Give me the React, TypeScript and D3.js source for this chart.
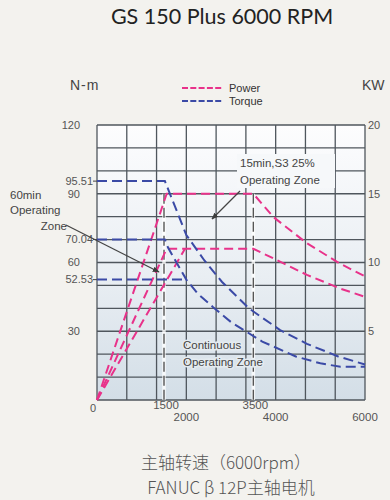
import React, { useEffect, useRef } from 'react';
import * as d3 from 'd3';

// torque curves, [rpm, N-m]
const torqueS3: [number, number][] = [
  [0, 95.51], [1520, 95.51], [2000, 72], [2400, 61], [2800, 51.5], [3400, 40],
  [4100, 30.5], [4700, 24.5], [5400, 19], [6000, 15.5],
];
const torqueCont: [number, number][] = [
  [0, 70.04], [1520, 70.04], [1590, 66.5], [2000, 52.53], [2250, 46.5], [2600, 40.5],
  [3000, 34], [3700, 25.5], [4450, 19], [5000, 16], [5450, 14.5], [6000, 14.5],
];
const torqueLow: [number, number][] = [[0, 52.53], [1970, 52.53]];

// power curves, [rpm, kW]
const powerS3: [number, number][] = [
  [0, 0], [1560, 15], [3500, 15], [3950, 13.3], [4700, 11.4], [5450, 9.9], [6000, 9],
];
const powerCont: [number, number][] = [
  [0, 0], [1560, 11], [3500, 11], [3950, 10.3], [4700, 9.1], [5450, 8.1], [6000, 7.5],
];
const powerLow: [number, number][] = [[0, 0], [1970, 11]];

// tick labels
const torqueTicks = [120, 90, 60, 30];
const torqueMarks = [95.51, 70.04, 52.53];
const powerTicks = [20, 15, 10, 5];
const rpmTicksHigh = [1500, 3500];
const rpmTicksLow = [2000, 4000, 6000];
const refLines = [1500, 3500];

const PINK = '#e8328a';
const BLUE = '#3b4aa6';
const GRID = '#4f565d';
const TXT = '#555';

export default function App() {
  const ref = useRef<SVGSVGElement>(null);

  useEffect(() => {
    const svg = d3.select(ref.current);
    svg.selectAll('*').remove();

    const left = 97;
    const right = 365;
    const top = 125;
    const bottom = 400;

    const x = d3.scaleLinear().domain([0, 6000]).range([left, right]);
    const yT = d3.scaleLinear().domain([0, 120]).range([bottom, top]);
    const yP = d3.scaleLinear().domain([0, 20]).range([bottom, top]);
    const col = d3.scaleLinear().domain([0, 9]).range([left, right]);

    const defs = svg.append('defs');
    const grad = defs.append('linearGradient')
      .attr('id', 'plotbg')
      .attr('x1', 0).attr('y1', 0).attr('x2', 0).attr('y2', 1);
    grad.append('stop').attr('offset', '0%').attr('stop-color', '#fdfdfe');
    grad.append('stop').attr('offset', '55%').attr('stop-color', '#e9eef3');
    grad.append('stop').attr('offset', '100%').attr('stop-color', '#d3dee7');

    defs.append('marker')
      .attr('id', 'arrow')
      .attr('viewBox', '0 0 10 10')
      .attr('refX', 9).attr('refY', 5)
      .attr('markerWidth', 7).attr('markerHeight', 7)
      .attr('markerUnits', 'userSpaceOnUse')
      .attr('orient', 'auto')
      .append('path')
      .attr('d', 'M0,1 L10,5 L0,9 Z')
      .attr('fill', '#3c3c3c');

    // page background
    svg.append('rect')
      .attr('width', 390).attr('height', 500)
      .attr('fill', '#f3f2ee');

    // title
    svg.append('text')
      .attr('x', 222).attr('y', 24)
      .attr('text-anchor', 'middle')
      .style('font-family', 'Lato, sans-serif')
      .style('font-size', '21.5px')
      .attr('fill', '#222')
      .text('GS 150 Plus 6000 RPM');

    // unit labels
    svg.append('text')
      .attr('x', 70).attr('y', 90)
      .style('font-family', 'Liberation Sans, sans-serif')
      .style('font-size', '14px')
      .style('letter-spacing', '1px')
      .attr('fill', '#444')
      .text('N-m');
    svg.append('text')
      .attr('x', 362).attr('y', 90)
      .style('font-family', 'Liberation Sans, sans-serif')
      .style('font-size', '14px')
      .attr('fill', '#444')
      .text('KW');

    // legend
    const legend = [
      { name: 'Power', color: PINK, y: 88 },
      { name: 'Torque', color: BLUE, y: 101 },
    ];
    legend.forEach((l) => {
      svg.append('line')
        .attr('x1', 182).attr('x2', 222)
        .attr('y1', l.y).attr('y2', l.y)
        .attr('stroke', l.color)
        .attr('stroke-width', 2)
        .attr('stroke-dasharray', '6,2.3');
      svg.append('text')
        .attr('x', 229).attr('y', l.y + 4)
        .style('font-family', 'Liberation Sans Narrow, Liberation Sans, sans-serif')
        .style('font-size', '11px')
        .attr('fill', '#333')
        .text(l.name);
    });

    // plot area
    svg.append('rect')
      .attr('x', left).attr('y', top)
      .attr('width', right - left).attr('height', bottom - top)
      .attr('fill', 'url(#plotbg)');

    const grid = svg.append('g').attr('stroke', GRID).attr('stroke-width', 1.3);
    grid.selectAll('line.h')
      .data(d3.range(0, 121, 10))
      .enter()
      .append('line')
      .attr('x1', left).attr('x2', right)
      .attr('y1', (d) => yT(d)).attr('y2', (d) => yT(d));
    grid.selectAll('line.v')
      .data(d3.range(0, 10))
      .enter()
      .append('line')
      .attr('y1', top).attr('y2', bottom)
      .attr('x1', (d) => col(d)).attr('x2', (d) => col(d));

    // 15min label box
    svg.append('rect')
      .attr('x', 237).attr('y', 154)
      .attr('width', 98).attr('height', 34)
      .attr('fill', '#f6f8fa');

    // reference dashed lines at 1500 / 3500
    refLines.forEach((r) => {
      svg.append('line')
        .attr('x1', x(r)).attr('x2', x(r))
        .attr('y1', yP(15)).attr('y2', bottom)
        .attr('stroke', '#ffffff')
        .attr('stroke-opacity', 0.8)
        .attr('stroke-width', 3.5);
      svg.append('line')
        .attr('x1', x(r)).attr('x2', x(r))
        .attr('y1', yP(15)).attr('y2', bottom)
        .attr('stroke', '#555')
        .attr('stroke-width', 1.4)
        .attr('stroke-dasharray', '10,4');
    });

    // curves
    const lineT = d3.line<[number, number]>()
      .x((d) => x(d[0]))
      .y((d) => yT(d[1]));
    const lineP = d3.line<[number, number]>()
      .x((d) => x(d[0]))
      .y((d) => yP(d[1]));

    [powerS3, powerCont, powerLow].forEach((s) => {
      svg.append('path')
        .attr('d', lineP(s))
        .attr('fill', 'none')
        .attr('stroke', PINK)
        .attr('stroke-width', 2)
        .attr('stroke-dasharray', '9,5');
    });
    [torqueS3, torqueCont, torqueLow].forEach((s) => {
      svg.append('path')
        .attr('d', lineT(s))
        .attr('fill', 'none')
        .attr('stroke', BLUE)
        .attr('stroke-width', 2)
        .attr('stroke-dasharray', '10,5');
    });

    // axis labels
    const axisFont = 'Liberation Sans, Arial, sans-serif';
    svg.selectAll('text.tl')
      .data(torqueTicks)
      .enter()
      .append('text')
      .attr('x', 80).attr('y', (d) => yT(d))
      .attr('dy', '0.35em')
      .attr('text-anchor', 'end')
      .style('font-family', axisFont)
      .style('font-size', '11px')
      .attr('fill', TXT)
      .text((d) => d);
    svg.selectAll('text.tm')
      .data(torqueMarks)
      .enter()
      .append('text')
      .attr('x', 93).attr('y', (d) => yT(d))
      .attr('dy', '0.35em')
      .attr('text-anchor', 'end')
      .style('font-family', axisFont)
      .style('font-size', '11px')
      .attr('fill', TXT)
      .text((d) => d.toFixed(2));
    svg.selectAll('line.tm')
      .data(torqueMarks)
      .enter()
      .append('line')
      .attr('x1', 93).attr('x2', left)
      .attr('y1', (d) => yT(d)).attr('y2', (d) => yT(d))
      .attr('stroke', '#444')
      .attr('stroke-width', 1);
    svg.selectAll('text.pt')
      .data(powerTicks)
      .enter()
      .append('text')
      .attr('x', 368).attr('y', (d) => yP(d))
      .attr('dy', '0.35em')
      .style('font-family', axisFont)
      .style('font-size', '11px')
      .attr('fill', TXT)
      .text((d) => d);

    svg.append('text')
      .attr('x', 93).attr('y', 408)
      .attr('dy', '0.35em')
      .attr('text-anchor', 'middle')
      .style('font-family', axisFont)
      .style('font-size', '11px')
      .attr('fill', TXT)
      .text('0');
    svg.selectAll('text.xh')
      .data(rpmTicksHigh)
      .enter()
      .append('text')
      .attr('x', (d) => x(d) + 2).attr('y', 405)
      .attr('dy', '0.35em')
      .attr('text-anchor', 'middle')
      .style('font-family', axisFont)
      .style('font-size', '11.5px')
      .attr('fill', TXT)
      .text((d) => d);
    svg.selectAll('text.xl')
      .data(rpmTicksLow)
      .enter()
      .append('text')
      .attr('x', (d) => x(d)).attr('y', 417)
      .attr('dy', '0.35em')
      .attr('text-anchor', 'middle')
      .style('font-family', axisFont)
      .style('font-size', '11.5px')
      .attr('fill', TXT)
      .text((d) => d);

    // annotations
    const note = (tx: number, ty: number, s: string, anchor = 'start', halo = false) => {
      const t = svg.append('text')
        .attr('x', tx).attr('y', ty)
        .attr('dy', '0.35em')
        .attr('text-anchor', anchor)
        .style('font-family', axisFont)
        .style('font-size', '11.5px')
        .attr('fill', '#444')
        .text(s);
      if (halo) {
        t.attr('stroke', '#e4ebf0')
          .attr('stroke-width', 3)
          .style('paint-order', 'stroke');
      }
    };
    note(240, 163, '15min,S3 25%');
    note(240, 180, 'Operating Zone');
    note(10, 195, '60min');
    note(10, 210, 'Operating');
    note(67, 226, 'Zone', 'end');
    note(183, 345, 'Continuous', 'start', true);
    note(183, 362, 'Operating Zone', 'start', true);

    svg.append('line')
      .attr('x1', 240).attr('y1', 191)
      .attr('x2', 212).attr('y2', 219)
      .attr('stroke', '#444')
      .attr('stroke-width', 1.2)
      .attr('marker-end', 'url(#arrow)');
    svg.append('line')
      .attr('x1', 66).attr('y1', 225)
      .attr('x2', 159).attr('y2', 272)
      .attr('stroke', '#444')
      .attr('stroke-width', 1.2)
      .attr('marker-end', 'url(#arrow)');

    // bottom captions
    const cjk = 'Noto Sans CJK SC, sans-serif';
    svg.append('text')
      .attr('x', 226).attr('y', 463)
      .attr('dy', '0.35em')
      .attr('text-anchor', 'middle')
      .style('font-family', cjk)
      .style('font-size', '17px')
      .style('font-weight', 300)
      .attr('fill', '#555')
      .text('主轴转速（6000rpm）');
    svg.append('text')
      .attr('x', 231).attr('y', 488)
      .attr('dy', '0.35em')
      .attr('text-anchor', 'middle')
      .style('font-family', cjk)
      .style('font-size', '17px')
      .style('font-weight', 300)
      .attr('fill', '#555')
      .text('FANUC β 12P主轴电机');
  }, []);

  return (
    <svg
      ref={ref}
      width={390}
      height={500}
      style={{ position: 'absolute', left: 0, top: 0 }}
    />
  );
}
